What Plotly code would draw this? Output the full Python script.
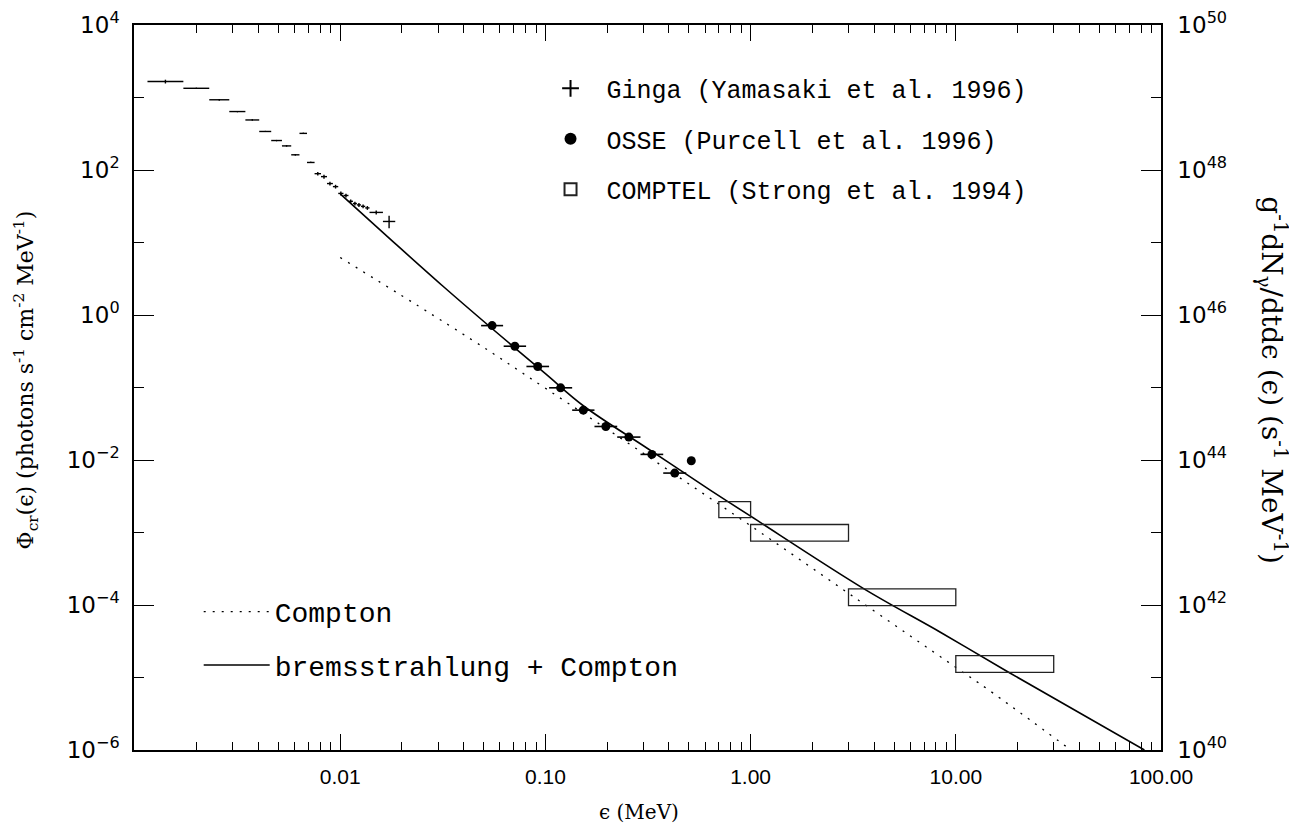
import plotly.graph_objects as go

# ---------------- data ----------------
# Ginga (Yamasaki et al. 1996): energy bins (MeV) and flux
ginga_lo = [0.00115, 0.00172, 0.00230, 0.00288, 0.00345, 0.00403, 0.00461, 0.00520,
            0.00577, 0.00633, 0.00689, 0.00750, 0.00806, 0.00862, 0.00921, 0.00978,
            0.01037, 0.01097, 0.01153, 0.01206, 0.01262, 0.01324, 0.01389, 0.01615]
ginga_hi = [0.00172, 0.00230, 0.00288, 0.00345, 0.00403, 0.00461, 0.00520, 0.00577,
            0.00633, 0.00689, 0.00750, 0.00806, 0.00862, 0.00921, 0.00978, 0.01037,
            0.01097, 0.01153, 0.01206, 0.01262, 0.01324, 0.01389, 0.01615, 0.01854]
ginga_flux = [1660, 1340, 930, 640, 490, 340, 255, 215, 162, 320, 127, 89,
              81, 65, 59, 47.5, 44.5, 37, 34.5, 33, 31.5, 30, 26, 19.5]
ginga_err = [100, 25, 18, 12, 9, 6, 5, 4, 3, 6, 2.5, 5,
             5, 4, 3.5, 3, 2.7, 2.2, 2.1, 2, 1.9, 1.8, 1.6, 3.8]

# OSSE (Purcell et al. 1996)
osse_lo = [0.0486, 0.0626, 0.0808, 0.1042, 0.1350, 0.1734, 0.2238, 0.2906, 0.3751, 0.508]
osse_hi = [0.0622, 0.0805, 0.1042, 0.1350, 0.1734, 0.2238, 0.2906, 0.3751, 0.4857, 0.520]
osse_flux = [0.714, 0.371, 0.195, 0.099, 0.0487, 0.0290, 0.0207, 0.01195, 0.0066, 0.00977]
osse_err = [0.03, 0.016, 0.008, 0.004, 0.002, 0.0013, 0.001, 0.0007, 0.0008, 0.0012]

# COMPTEL (Strong et al. 1994): boxes
comptel_lo = [0.7, 1.0, 3.0, 10.0]
comptel_hi = [1.0, 3.0, 10.0, 30.0]
comptel_fmin = [1.60e-3, 7.6e-4, 9.8e-5, 1.18e-5]
comptel_fmax = [2.67e-3, 1.29e-3, 1.67e-4, 2.0e-5]

# Model curves
compton_e = [0.01, 0.0431, 0.1, 0.316, 1.0, 3.16, 10.0, 14.2, 36.4]
compton_f = [6.2, 0.469, 0.0977, 0.0112, 1.24e-3, 1.31e-4, 1.38e-5, 6.98e-6, 1.0e-6]
total_e = [0.01, 0.0178, 0.0316, 0.054, 0.1, 0.153, 0.316, 0.638, 1.0, 3.57, 8.45, 17.9, 83.0]
total_f = [46.8, 10.7, 2.51, 0.678, 0.155, 0.056, 0.01429, 3.81e-3, 1.68e-3, 1.67e-4,
           4.18e-5, 1.20e-5, 1.0e-6]

# axis tick labels
x_tickvals = [0.01, 0.1, 1.0, 10.0, 100.0]
x_ticktext = ["0.01", "0.10", "1.00", "10.00", "100.00"]
y_exps = [-6, -4, -2, 0, 2, 4]
y2_exps = [40, 42, 44, 46, 48, 50]

# ---------------- derived ----------------
ginga_x = [(a * b) ** 0.5 for a, b in zip(ginga_lo, ginga_hi)]
osse_x = [(a * b) ** 0.5 for a, b in zip(osse_lo, osse_hi)]

fig = go.Figure()

fig.add_trace(go.Scatter(
    x=ginga_x, y=ginga_flux, mode="markers",
    marker=dict(symbol="cross-thin", size=0.5, line=dict(width=1.3, color="black"), color="black"),
    error_x=dict(type="data", symmetric=False,
                 array=[h - c for h, c in zip(ginga_hi, ginga_x)],
                 arrayminus=[c - l for l, c in zip(ginga_lo, ginga_x)],
                 color="black", thickness=1.4, width=0),
    error_y=dict(type="data", array=ginga_err, color="black", thickness=1.4, width=0),
    name="Ginga (Yamasaki et al. 1996)", legendgroup="g1", legend="legend", legendrank=1))

fig.add_trace(go.Scatter(
    x=osse_x, y=osse_flux, mode="markers",
    marker=dict(symbol="circle", size=9, color="black"),
    error_x=dict(type="data", symmetric=False,
                 array=[h - c for h, c in zip(osse_hi, osse_x)],
                 arrayminus=[c - l for l, c in zip(osse_lo, osse_x)],
                 color="black", thickness=1.6, width=0),
    error_y=dict(type="data", array=osse_err, color="black", thickness=1.6, width=0),
    name="OSSE (Purcell et al. 1996)", legendgroup="g2", legend="legend", legendrank=2))

for i, (lo, hi, fmin, fmax) in enumerate(zip(comptel_lo, comptel_hi, comptel_fmin, comptel_fmax)):
    fig.add_shape(type="rect", xref="x", yref="y", x0=lo, x1=hi, y0=fmin, y1=fmax,
                  line=dict(color="#222", width=1.3), fillcolor="rgba(0,0,0,0)",
                  name="COMPTEL (Strong et al. 1994)", showlegend=(i == 0),
                  legend="legend", legendgroup="g3", legendrank=3)

fig.add_trace(go.Scatter(
    x=compton_e, y=compton_f, mode="lines", line_shape="spline",
    line=dict(color="black", width=1.3, dash="2px,7px"),
    name="Compton", legendgroup="h1", legend="legend2"))

fig.add_trace(go.Scatter(
    x=total_e, y=total_f, mode="lines", line_shape="spline",
    line=dict(color="black", width=1.6),
    name="bremsstrahlung + Compton", legendgroup="h2", legend="legend2"))

minor_x = [m * 10 ** k for k in range(-3, 2) for m in range(2, 10)]
odd_y = [10.0 ** k for k in range(-5, 4, 2)]
odd_y2 = [10.0 ** k for k in range(41, 50, 2)]

tickfont_y = dict(family="DejaVu Sans", size=23, color="black")
tickfont_x = dict(family="Liberation Sans", size=21, color="black")

common = dict(showgrid=False, zeroline=False, showline=True, linecolor="black",
              linewidth=1.5, ticks="inside", tickcolor="black", tickwidth=1.3,
              automargin=False)

fig.update_layout(
    width=1289, height=822,
    margin=dict(l=126, r=136, t=17, b=80, autoexpand=False),
    paper_bgcolor="white", plot_bgcolor="white",
    showlegend=True,
    xaxis=dict(type="log", range=[-3.005, 2.0], tickvals=x_tickvals, ticktext=x_ticktext,
               ticklen=16, mirror="ticks", tickfont=tickfont_x, ticklabelstandoff=7, **common),
    xaxis3=dict(type="log", range=[-3.005, 2.0], overlaying="x", anchor="y", tickvals=minor_x,
                ticklen=8, mirror="ticks", showticklabels=False, **common),
    yaxis=dict(type="log", range=[-6, 4], tickvals=[10.0 ** e for e in y_exps],
               ticktext=["10<sup>%d</sup>" % e if e >= 0 else "10<sup>\u2212%d</sup>" % (-e)
                         for e in y_exps],
               ticklen=20, tickfont=tickfont_y, ticklabelstandoff=8, **common),
    yaxis3=dict(type="log", range=[-6, 4], overlaying="y", anchor="x", side="left",
                tickvals=odd_y, ticklen=10, showticklabels=False, **common),
    yaxis2=dict(type="log", range=[40, 50], overlaying="y", anchor="x", side="right",
                tickvals=[10.0 ** e for e in y2_exps],
                ticktext=["10<sup>%d</sup>" % e for e in y2_exps],
                ticklen=20, tickfont=tickfont_y, ticklabelstandoff=10, **common),
    yaxis4=dict(type="log", range=[40, 50], overlaying="y", anchor="x", side="right",
                tickvals=odd_y2, ticklen=10, showticklabels=False, **common),
    legend=dict(x=0.39, y=0.944, xanchor="left", yanchor="top",
                font=dict(family="Liberation Mono", size=25, color="black"),
                bgcolor="rgba(0,0,0,0)", tracegroupgap=15, itemsizing="constant", itemwidth=62),
    legend2=dict(x=0.063, y=0.225, xanchor="left", yanchor="top",
                 font=dict(family="Liberation Mono", size=28, color="black"),
                 bgcolor="rgba(0,0,0,0)", tracegroupgap=14, itemwidth=66),
    annotations=[
        dict(text="ϵ (MeV)", xref="paper", yref="paper", x=0.492, y=-0.085,
             showarrow=False, font=dict(family="DejaVu Serif", size=20, color="black"),
             xanchor="center", yanchor="middle"),
        dict(text="Φ<sub>cr</sub>(ϵ) (photons s<sup>-1</sup> cm<sup>-2</sup> MeV<sup>-1</sup>)",
             xref="paper", yref="paper", x=-0.105, y=0.51, textangle=-90, showarrow=False,
             font=dict(family="DejaVu Serif", size=22, color="black"),
             xanchor="center", yanchor="middle"),
        dict(text="g<sup>-1</sup>dN<sub>γ</sub>/dtdϵ (ϵ) (s<sup>-1</sup> MeV<sup>-1</sup>)",
             xref="paper", yref="paper", x=1.108, y=0.51, textangle=90, showarrow=False,
             font=dict(family="DejaVu Serif", size=28, color="black"),
             xanchor="center", yanchor="middle"),
    ],
)

# attach invisible helper traces so the overlaying tick axes are rendered
fig.add_trace(go.Scatter(x=[], y=[], xaxis="x3", yaxis="y", showlegend=False, hoverinfo="skip"))
fig.add_trace(go.Scatter(x=[], y=[], xaxis="x", yaxis="y3", showlegend=False, hoverinfo="skip"))
fig.add_trace(go.Scatter(x=[], y=[], xaxis="x", yaxis="y2", showlegend=False, hoverinfo="skip"))
fig.add_trace(go.Scatter(x=[], y=[], xaxis="x", yaxis="y4", showlegend=False, hoverinfo="skip"))

fig.write_html("out.html")
